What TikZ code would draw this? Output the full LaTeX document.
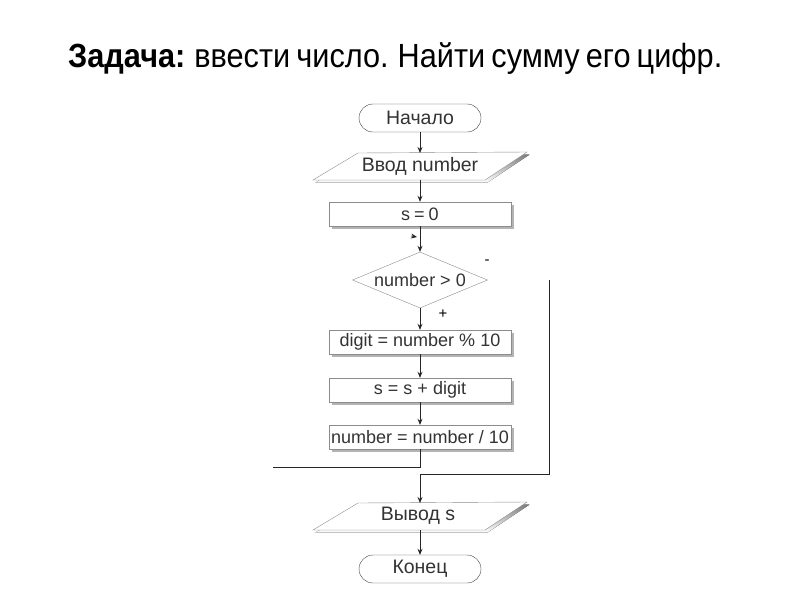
\documentclass[tikz,border=0pt]{standalone}
\usepackage{fontspec}
\setmainfont{Liberation Sans}
\usetikzlibrary{shapes.geometric,arrows.meta,shadows}
\definecolor{txt}{HTML}{333333}
\definecolor{edge}{HTML}{8C8C8C}
\definecolor{shade}{HTML}{B4B4B4}
\begin{document}
\begin{tikzpicture}[x=1pt,y=-1pt,
  every node/.style={font=\fontsize{18}{20}\selectfont, text=txt},
  cyr/.style={font=\fontsize{19.5}{21}\selectfont},
  procbox/.style={rectangle, draw=edge, fill=white, minimum width=182pt, minimum height=24pt, inner sep=0pt,
    drop shadow={shadow xshift=2.5pt, shadow yshift=-2.5pt, fill=shade, opacity=1}},
  termbox/.style={rectangle, rounded corners=14pt, draw=black!75, fill=white, minimum width=122pt, minimum height=28pt, inner sep=0pt},
  iobox/.style={rectangle, minimum width=150pt, minimum height=27pt, inner sep=0pt},
  iopath/.style={draw=edge, fill=white},
  decbox/.style={diamond, shape aspect=2.4, draw=edge, fill=white, minimum width=135pt, minimum height=56pt, inner sep=0pt},
  conn/.style={draw=black!85, line width=0.8pt},
  arr/.style={conn, -{Stealth[length=6pt,width=5pt]}},
  lbl/.style={font=\fontsize{15}{16}\selectfont, text=black}
]
\useasboundingbox (0,0) rectangle (800,600);
\fill[white] (0,0) rectangle (800,600);

% title
\node[anchor=base west, inner sep=0pt, text=black] (title) at (68,67)
  {\resizebox{654pt}{\height}{\fontsize{33.5}{36}\selectfont\spaceskip=0.2em\relax\textbf{Задача:} ввести число. Найти сумму его цифр.}};

% start
\node[termbox, cyr] (start) at (420,118) {Начало};

% input parallelogram
\fill[shade] (360.5,155.5) -- (529.5,154.5) -- (487.5,182.5) -- (315.5,182.5) -- cycle;
\path[iopath] (358,153) -- (527,152) -- (485,180) -- (313,180) -- cycle;
\node[iobox, cyr] (in) at (420,166) {Ввод number};
\coordinate (intop) at (420,153);
\coordinate (inbot) at (420,180);

\node[procbox] (s0) at (420,214) {s\hspace{4pt}=\hspace{4pt}0};

\node[decbox] (cond) at (420,280) {number > 0};
\node[lbl] (minus) at (487,262) {-};
\node[lbl] (plus) at (443,314) {+};

\node[procbox] (digit) at (420,342) {digit = number \% 10};
\node[procbox] (ssum) at (420,390) {s = s + digit};
\node[procbox] (nn) at (420,437) {number = number / 10};

% output parallelogram
\fill[shade] (360.5,505.5) -- (529.5,504.5) -- (487.5,532.5) -- (315.5,532.5) -- cycle;
\path[iopath] (358,503) -- (527,502) -- (485,530) -- (313,530) -- cycle;
\node[iobox, cyr] (out) at (418,516) {Вывод s};
\coordinate (outtop) at (420,503);
\coordinate (outbot) at (420,530);

\node[termbox, cyr] (end) at (420,569) {Конец};

% connectors
\draw[arr] (start.south) -- (intop);
\draw[arr] (inbot) -- (s0.north);
\draw[arr] (s0.south) -- (cond.north);
\coordinate (looptipA) at (411,236);
\coordinate (looptipB) at (417,237);
\draw[-{Stealth[length=6pt,width=5pt]}, draw=black!85, line width=0.6pt] (looptipA) -- (looptipB);
\draw[arr] (cond.south) -- (digit.north);
\draw[arr] (digit.south) -- (ssum.north);
\draw[arr] (ssum.south) -- (nn.north);
\coordinate (loopA) at (420,467);
\coordinate (loopB) at (273,467);
\draw[conn] (nn.south) -- (loopA) -- (loopB);
\coordinate (exitA) at (549,280);
\coordinate (exitB) at (549,474);
\coordinate (exitC) at (420,474);
\draw[arr] (exitA) -- (exitB) -- (exitC) -- (outtop);
\draw[arr] (outbot) -- (end.north);
\end{tikzpicture}
\end{document}
